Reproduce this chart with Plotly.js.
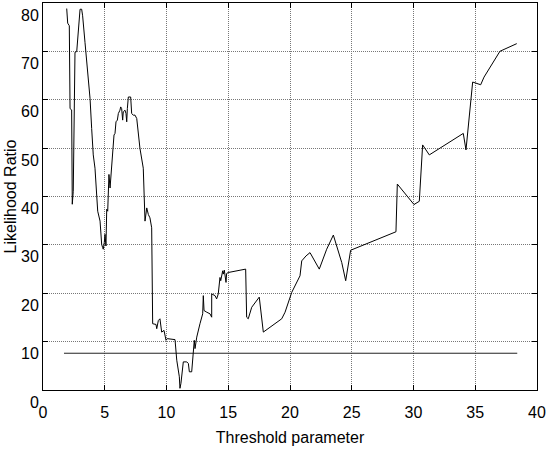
<!DOCTYPE html>
<html>
<head>
<meta charset="utf-8">
<script src="https://cdn.plot.ly/plotly-3.0.1.min.js"></script>
<style>
  html, body { margin: 0; padding: 0; background: #fff; }
  #chart { width: 550px; height: 450px; }
</style>
</head>
<body>
<div id="chart"></div>
<script>
// Likelihood ratio as a function of the threshold parameter
const threshold = [
  1.92, 2.00, 2.13, 2.19, 2.32, 2.32, 2.37, 2.45, 2.53, 2.59, 2.73, 2.78, 2.94, 3.00, 3.13, 3.21,
  3.40, 3.67, 3.81, 3.94, 4.07, 4.21, 4.35, 4.43, 4.62, 4.75, 4.83, 4.88, 4.96, 5.02, 5.10, 5.16,
  5.24, 5.34, 5.43, 5.56, 5.69, 5.75, 5.83, 5.91, 6.02, 6.10, 6.23, 6.29, 6.37, 6.45, 6.50, 6.64,
  6.72, 6.78, 6.83, 6.91, 7.10, 7.18, 7.31, 7.45, 7.59, 7.85, 8.12, 8.26, 8.40, 8.53, 8.66, 8.80,
  8.88, 9.15, 9.21, 9.34, 9.47, 9.61, 9.80, 9.88, 9.96, 10.06, 10.55, 10.69, 10.83, 11.04, 11.09, 11.17,
  11.36, 11.64, 11.77, 11.85, 12.04, 12.17, 12.25, 12.31, 12.45, 12.71, 12.93, 12.98, 13.04, 13.26, 13.52, 13.66,
  13.66, 13.93, 14.06, 14.19, 14.28, 14.33, 14.39, 14.55, 14.60, 14.68, 14.82, 14.87, 15.00, 16.41, 16.49, 16.62,
  16.90, 17.51, 17.84, 19.33, 19.60, 20.14, 20.81, 20.95, 21.30, 21.62, 22.37, 22.97, 23.51, 24.19, 24.51, 24.91,
  28.58, 28.69, 30.04, 30.47, 30.74, 31.28, 34.03, 34.25, 34.79, 35.44, 35.71, 37.00, 38.36
];
const likelihood = [
  78.85, 75.83, 75.30, 58.17, 57.90, 41.48, 38.40, 41.07, 58.17, 69.82, 69.96, 71.87, 78.03, 78.71, 78.71, 77.35,
  71.87, 64.33, 60.23, 54.07, 48.60, 45.85, 41.07, 36.96, 34.91, 30.12, 29.43, 29.10, 30.45, 32.18, 29.77, 37.37,
  36.96, 44.56, 41.75, 46.55, 49.28, 52.71, 53.04, 55.44, 55.79, 57.15, 57.84, 58.52, 58.17, 55.79, 57.49, 57.84,
  57.15, 55.44, 58.17, 60.57, 60.57, 57.15, 56.82, 56.82, 56.12, 49.96, 45.85, 34.91, 37.64, 36.28, 35.59, 33.53,
  13.70, 13.55, 12.67, 14.37, 14.72, 11.97, 12.32, 11.29, 10.27, 10.62, 10.47, 10.41, 6.16, 2.73, 0.35, 1.38,
  5.81, 5.81, 5.48, 3.76, 3.76, 8.21, 10.27, 8.56, 10.94, 13.70, 15.75, 19.51, 16.43, 16.08, 15.75, 15.05,
  19.86, 19.51, 18.83, 19.86, 22.24, 23.26, 22.59, 24.64, 23.96, 24.78, 22.24, 24.09, 24.29, 24.99, 15.05, 14.72,
  17.10, 19.20, 11.97, 14.72, 16.08, 20.18, 23.61, 26.69, 27.72, 28.40, 24.99, 29.10, 32.03, 26.34, 22.59, 28.89,
  32.71, 42.57, 38.34, 39.01, 50.66, 48.60, 53.04, 49.63, 63.66, 63.10, 64.68, 70.02, 71.60
];

// Reference level drawn as a flat line across the threshold span
const refThreshold = [1.7, 38.4];
const refLevel = [7.6, 7.6];

const xTicks = [0, 5, 10, 15, 20, 25, 30, 35, 40];
const yTicks = [0, 10, 20, 30, 40, 50, 60, 70, 80];

const traces = [
  {
    x: refThreshold, y: refLevel, type: 'scatter', mode: 'lines',
    line: { color: '#222', width: 1 }, hoverinfo: 'skip', showlegend: false
  },
  {
    x: threshold, y: likelihood, type: 'scatter', mode: 'lines',
    line: { color: '#000', width: 1 }, showlegend: false
  }
];

const tickFont = { family: 'Liberation Sans, Arial, sans-serif', color: '#000', size: 16 };
const titleFont = { family: 'Liberation Sans, Arial, sans-serif', color: '#000', size: 16 };

const layout = {
  width: 550, height: 450,
  margin: { l: 43, r: 13, t: 3, b: 60 },
  paper_bgcolor: '#fff', plot_bgcolor: '#fff',
  font: tickFont,
  showlegend: false,
  xaxis: {
    range: [0, 40],
    tickvals: xTicks, ticktext: xTicks.map(String),
    ticks: 'inside', ticklen: 5, tickcolor: '#000', tickwidth: 1,
    mirror: 'ticks', showline: true, linecolor: '#000', linewidth: 1,
    showgrid: true, gridcolor: '#777', griddash: '1px,1px', gridwidth: 1,
    zeroline: false,
    tickfont: tickFont,
    ticklabelstandoff: 8,
    title: { text: 'Threshold parameter', font: titleFont, standoff: 11 }
  },
  yaxis: {
    range: [0, 80],
    tickvals: yTicks, ticktext: yTicks.map(String),
    ticks: 'inside', ticklen: 5, tickcolor: '#000', tickwidth: 1,
    mirror: 'ticks', showline: true, linecolor: '#000', linewidth: 1,
    showgrid: true, gridcolor: '#777', griddash: '1px,1px', gridwidth: 1,
    zeroline: false,
    tickfont: tickFont,
    ticklabelshift: 12,
    title: { text: 'Likelihood Ratio', font: titleFont, standoff: 0 }
  }
};

Plotly.newPlot('chart', traces, layout, { staticPlot: true, displayModeBar: false });
</script>
</body>
</html>
